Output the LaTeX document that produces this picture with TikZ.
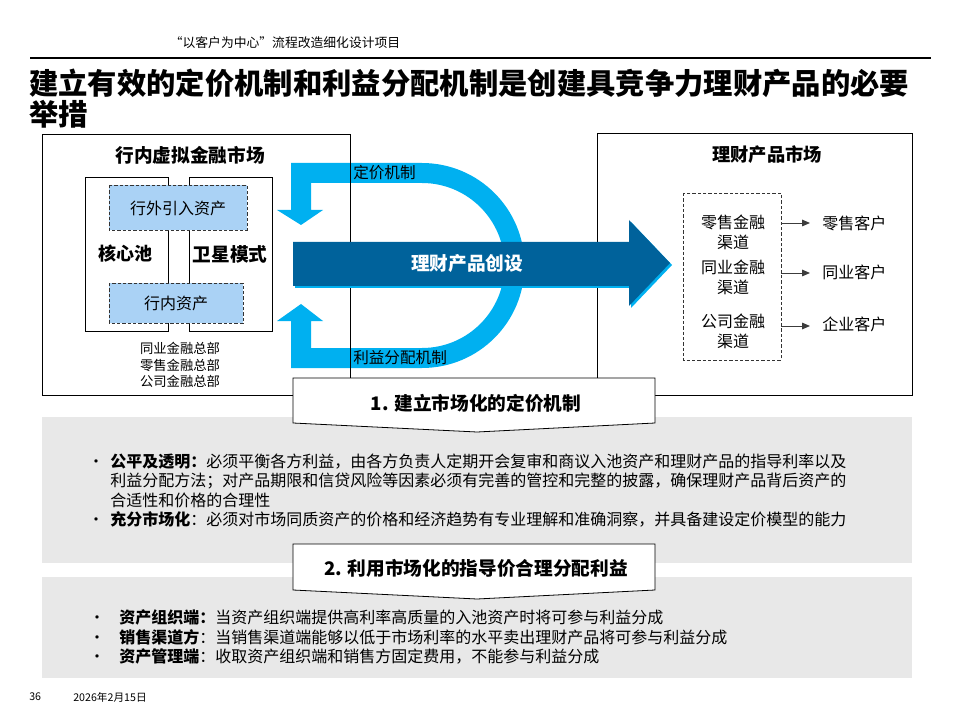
\documentclass[tikz,border=0pt]{standalone}
\usepackage{fontspec}
\setmainfont{Noto Sans CJK SC}
\usetikzlibrary{arrows.meta}
\definecolor{darkblue}{RGB}{0,98,155}
\definecolor{cyanband}{RGB}{0,176,240}
\definecolor{lightfill}{RGB}{170,210,245}
\definecolor{panelgray}{RGB}{232,232,232}
\definecolor{arrgray}{RGB}{60,60,60}
\begin{document}
\begin{tikzpicture}[x=0.75pt,y=-0.75pt,
  frame/.style={draw=black,line width=0.6pt},
  dashbox/.style={draw=black!80,dashed,line width=0.6pt,dash pattern=on 2.5pt off 1.5pt},
  t12/.style={inner sep=0pt,font=\fontsize{12}{15}\selectfont},
  tb14/.style={inner sep=0pt,font=\fontsize{14}{17}\selectfont\bfseries},
  ln/.style={inner sep=0pt,anchor=west,font=\fontsize{12}{14}\selectfont},
  bul/.style={inner sep=0pt,anchor=base,font=\fontsize{12}{14}\selectfont},
  callout/.style={draw=black,fill=white,line width=0.6pt},
  chanarrow/.style={draw=arrgray,line width=0.7pt,-{Triangle[length=6pt,width=5pt]}}
]
\useasboundingbox (0,0) rectangle (960,720);

% header
\node (hdr) [inner sep=0pt,font=\fontsize{9.6}{11}\selectfont] at (285,43) {“以客户为中心”流程改造细化设计项目};
\draw[line width=0.8pt] (30,58) -- (931,58);
\node (title1) [inner sep=0pt,anchor=west,font=\fontsize{22}{26}\selectfont\bfseries] at (29,83) {建立有效的定价机制和利益分配机制是创建具竞争力理财产品的必要};
\node (title2) [inner sep=0pt,anchor=west,font=\fontsize{22}{26}\selectfont\bfseries] at (29,114) {举措};

% gray panels
\fill[panelgray] (42,417) rectangle (912,563);
\fill[panelgray] (42,577) rectangle (912,678);

% cyan D-shaped band
\fill[cyanband] (301,225) -- (323,210) -- (311,210) -- (311,183) -- (422,183)
  arc[start angle=-90,end angle=90,radius=82.5] -- (311,348) -- (311,321) -- (323,321)
  -- (301,304) -- (277,321) -- (291,321) -- (291,368) -- (422,368)
  arc[start angle=90,end angle=-90,radius=102.5] -- (291,163) -- (291,210) -- (277,210) -- cycle;
\node (pricing) [inner sep=0pt,anchor=west,font=\fontsize{11.7}{14}\selectfont] at (353,173) {定价机制};
\node (profit) [inner sep=0pt,anchor=west,font=\fontsize{11.7}{14}\selectfont] at (353,358) {利益分配机制};

% left box
\draw[frame] (42,134) rectangle (350,395);
\node (leftttl) [inner sep=0pt,font=\fontsize{14}{17}\selectfont\bfseries] at (190,155) {行内虚拟金融市场};
\draw[frame] (85,177) rectangle (168,331);
\draw[frame] (189,177) rectangle (272,331);
\filldraw[fill=lightfill,dashbox] (109,185) rectangle (247,230);
\filldraw[fill=lightfill,dashbox] (109,283) rectangle (243,323);
\node (ext) [t12] at (178,208) {行外引入资产};
\node (int) [t12] at (176,303) {行内资产};
\node (core) [inner sep=0pt,font=\fontsize{13.5}{16}\selectfont\bfseries] at (125,254) {核心池};
\node (sat) [inner sep=0pt,font=\fontsize{14}{16}\selectfont\bfseries] at (230,254) {卫星模式};
\node (hq) [inner sep=0pt,align=center,font=\fontsize{10}{12.4}\selectfont] at (180,365) {同业金融总部\\零售金融总部\\公司金融总部};

% right box
\draw[frame] (597,133) rectangle (912,395);
\node (rightttl) [inner sep=0pt,font=\fontsize{13.7}{16}\selectfont\bfseries] at (767,155) {理财产品市场};
\draw[dashbox] (683,193) rectangle (781,360);
\node (ch1) [t12,align=center] at (733,232) {零售金融\\渠道};
\node (ch2) [t12,align=center] at (733,277) {同业金融\\渠道};
\node (ch3) [t12,align=center] at (733,331) {公司金融\\渠道};
\coordinate (c1) at (781,223);
\coordinate (c2) at (781,273);
\coordinate (c3) at (781,326);
\node (k1) [t12,anchor=west] at (822,223) {零售客户};
\node (k2) [t12,anchor=west] at (822,272) {同业客户};
\node (k3) [t12,anchor=west] at (822,324) {企业客户};
\draw[chanarrow] (c1) -- ([xshift=-9pt]k1.west |- c1);
\draw[chanarrow] (c2) -- ([xshift=-9pt]k2.west |- c2);
\draw[chanarrow] (c3) -- ([xshift=-9pt]k3.west |- c3);

% big arrow
\fill[cyanband] (295,244) -- (631,244) -- (631,222) -- (672,265) -- (631,308) -- (631,288) -- (295,288) -- cycle;
\fill[darkblue] (293,242) -- (629,242) -- (629,220) -- (670,263) -- (629,306) -- (629,286) -- (293,286) -- cycle;
\node (create) [inner sep=0pt,text=white,font=\fontsize{14}{17}\selectfont\bfseries] at (467,263) {理财产品创设};

% callouts
\draw[callout] (293,378) -- (655,378) -- (655,423) -- (477,432) -- (293,423) -- cycle;
\node (co1) [tb14] at (476,403) {1. 建立市场化的定价机制};
\draw[callout] (293,544) -- (655,544) -- (655,590) -- (477,599) -- (293,590) -- cycle;
\node (co2) [tb14] at (476,568) {2. 利用市场化的指导价合理分配利益};

% bullets section 1
\node (l1) [ln] at (110,462) {\textbf{公平及透明：}必须平衡各方利益，由各方负责人定期开会复审和商议入池资产和理财产品的指导利率以及};
\node (l2) [ln] at (110,481) {利益分配方法；对产品期限和信贷风险等因素必须有完善的管控和完整的披露，确保理财产品背后资产的};
\node (l3) [ln] at (110,500) {合适性和价格的合理性};
\node (l4) [ln] at (110,519) {\textbf{充分市场化}：必须对市场同质资产的价格和经济趋势有专业理解和准确洞察，并具备建设定价模型的能力};
\node (b1) [bul] at (96,0 |- l1.base) {•};
\node (b2) [bul] at (96,0 |- l4.base) {•};

% bullets section 2
\node (m1) [ln] at (119,617) {\textbf{资产组织端：}当资产组织端提供高利率高质量的入池资产时将可参与利益分成};
\node (m2) [ln] at (119,637) {\textbf{销售渠道方}：当销售渠道端能够以低于市场利率的水平卖出理财产品将可参与利益分成};
\node (m3) [ln] at (119,656) {\textbf{资产管理端}：收取资产组织端和销售方固定费用，不能参与利益分成};
\node (b3) [bul] at (97,0 |- m1.base) {•};
\node (b4) [bul] at (97,0 |- m2.base) {•};
\node (b5) [bul] at (97,0 |- m3.base) {•};

% footer
\node (pg) [inner sep=0pt,anchor=west,font=\fontsize{8}{10}\selectfont] at (29,697) {36};
\node (date) [inner sep=0pt,anchor=west,font=\fontsize{8}{10}\selectfont] at (73,697) {2026年2月15日};
\end{tikzpicture}
\end{document}
